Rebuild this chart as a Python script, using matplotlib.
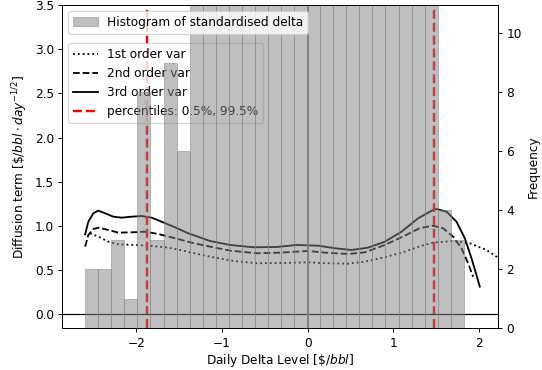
import matplotlib
matplotlib.use("Agg")
import matplotlib.pyplot as plt
import numpy as np

# histogram of standardised delta (29 equal bins)
bin_lo = -2.60
bin_hi = 1.826
counts = [2, 2, 3, 1, 8, 3, 9, 6,
          12, 15, 17, 20, 22, 24, 25, 27, 28, 27, 26, 25, 23, 21, 19, 17, 15, 13, 12,
          4, 3]

# diffusion term estimates
x1 = [-2.543, -2.446, -2.329, -2.213, -2.017, -1.822, -1.628, -1.433, -1.375, -1.141,
      -0.869, -0.596, -0.285, 0.007, 0.202, 0.475, 0.669, 0.903, 1.137, 1.312, 1.467,
      1.701, 1.896, 2.091, 2.208, 2.26]
y1 = [0.916, 0.878, 0.821, 0.792, 0.784, 0.773, 0.754, 0.716, 0.700, 0.652,
      0.603, 0.577, 0.580, 0.588, 0.577, 0.572, 0.595, 0.645, 0.708, 0.770, 0.810,
      0.829, 0.803, 0.727, 0.652, 0.615]

x2 = [-2.60, -2.563, -2.505, -2.446, -2.329, -2.213, -2.056, -1.901, -1.745, -1.55,
      -1.355, -1.141, -0.908, -0.596, -0.324, 0.007, 0.202, 0.475, 0.669, 0.903,
      1.137, 1.312, 1.467, 1.584, 1.701, 1.799, 1.876, 1.935]
y2 = [0.765, 0.897, 0.965, 0.980, 0.954, 0.923, 0.927, 0.934, 0.908, 0.860,
      0.810, 0.765, 0.720, 0.690, 0.697, 0.716, 0.697, 0.682, 0.701, 0.784,
      0.889, 0.975, 1.002, 0.973, 0.878, 0.747, 0.577, 0.425]

x3 = [-2.60, -2.563, -2.505, -2.446, -2.368, -2.271, -2.173, -2.056, -1.939, -1.822,
      -1.706, -1.55, -1.395, -1.141, -0.908, -0.636, -0.362, -0.129, 0.124, 0.319,
      0.514, 0.708, 0.903, 1.098, 1.292, 1.467, 1.507, 1.624, 1.741, 1.838, 1.916,
      1.974, 2.013]
y3 = [0.905, 1.047, 1.143, 1.172, 1.143, 1.104, 1.093, 1.104, 1.112, 1.093,
      1.047, 0.984, 0.916, 0.829, 0.784, 0.758, 0.761, 0.784, 0.776, 0.747,
      0.727, 0.754, 0.821, 0.934, 1.086, 1.180, 1.191, 1.161, 1.047, 0.860, 0.633,
      0.445, 0.312]

pct_lo = -1.872
pct_hi = 1.475

edges = np.linspace(bin_lo, bin_hi, len(counts) + 1)
centers = 0.5 * (edges[:-1] + edges[1:])

dpi = 87.5
fig, ax1 = plt.subplots(figsize=(542 / dpi, 370 / dpi), dpi=dpi)
fig.subplots_adjust(left=0.115, right=0.919, bottom=0.113, top=0.9865)

ax1.plot(x1, y1, 'k:', lw=1.5, label='1st order var')
ax1.plot(x2, y2, 'k--', lw=1.5, label='2nd order var')
ax1.plot(x3, y3, 'k-', lw=1.5, label='3rd order var')
ax1.axvline(pct_lo, color='r', ls='--', lw=2, label='percentiles: 0.5%, 99.5%')
ax1.axvline(pct_hi, color='r', ls='--', lw=2)
ax1.axhline(0, color='k', lw=1)
ax1.axvline(0, color='grey', lw=1.5)
ax1.set_xlim(-2.867, 2.227)
ax1.set_ylim(-0.158, 3.5)
ax1.set_xlabel(r'Daily Delta Level [$\$/bbl$]', labelpad=2)
ax1.set_ylabel(r'Diffusion term [$\$/bbl \cdot day^{-1/2}$]')
ax1.legend(loc='upper left', bbox_to_anchor=(0, 0.9))

ax2 = ax1.twinx()
ax2.hist(centers, bins=edges, weights=counts, color='grey', alpha=0.5,
         edgecolor='grey', lw=0.8, label='Histogram of standardised delta')
ax2.set_ylim(0, 10.95)
ax2.set_ylabel('Frequency')
ax2.legend(loc='upper left')

fig.savefig('out.png', dpi=dpi)
